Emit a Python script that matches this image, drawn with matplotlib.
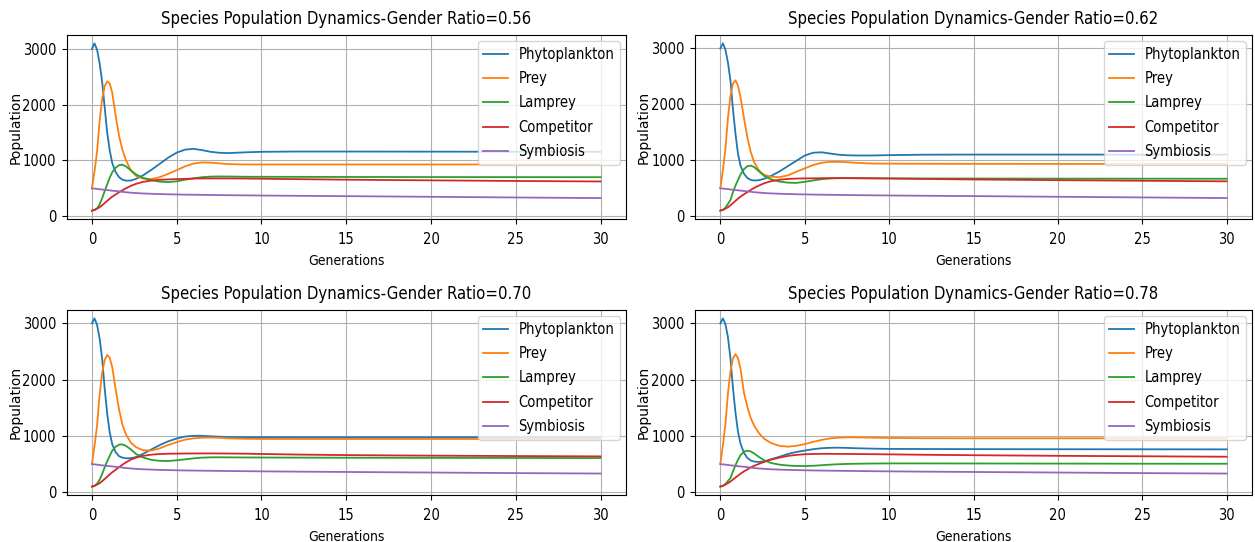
import matplotlib
matplotlib.use("Agg")
import matplotlib.pyplot as plt
import matplotlib.font_manager as fm

# ---------------- data ----------------
generations = [0, 0.15, 0.3, 0.45, 0.6, 0.75, 0.9, 1.05, 1.2, 1.4, 1.6, 1.8, 2.0, 2.3, 2.6,
               3.0, 3.5, 4.0, 4.5, 5.0, 5.5, 6.0, 6.5, 7.0, 7.5, 8.0, 9.0, 10, 12, 15, 20, 25, 30]

species = ["Phytoplankton", "Prey", "Lamprey", "Competitor", "Symbiosis"]
gender_ratios = ["0.56", "0.62", "0.70", "0.78"]

# Gender ratio 0.56
phyto_056 = [3000, 3100, 2990, 2750, 2420, 1960, 1500, 1180, 950, 790, 700, 655, 638, 640, 670,
             730, 830, 940, 1050, 1140, 1195, 1208, 1185, 1155, 1138, 1132, 1145, 1155, 1160, 1160, 1158, 1156, 1154]
prey_056 = [500, 800, 1150, 1700, 2100, 2330, 2420, 2380, 2210, 1800, 1440, 1190, 1010, 820, 725,
            675, 665, 700, 760, 826, 895, 945, 964, 960, 948, 935, 928, 928, 928, 928, 928, 928, 928]
lamprey_056 = [100, 110, 140, 210, 320, 450, 570, 690, 790, 870, 915, 925, 895, 820, 750,
               690, 645, 620, 612, 625, 655, 680, 700, 710, 713, 712, 708, 707, 706, 704, 702, 701, 700]
competitor_056 = [100, 115, 135, 160, 195, 235, 275, 315, 350, 390, 430, 465, 500, 545, 580,
                  615, 640, 653, 660, 665, 670, 675, 677, 678, 678, 678, 676, 672, 665, 655, 643, 632, 623]
symbiosis_056 = [500, 495, 490, 484, 478, 473, 468, 463, 458, 452, 445, 438, 430, 422, 415,
                 408, 402, 397, 393, 390, 387, 385, 383, 381, 379, 377, 374, 371, 366, 360, 348, 336, 325]

# Gender ratio 0.62
phyto_062 = [3000, 3090, 2980, 2750, 2430, 1910, 1470, 1110, 900, 760, 685, 650, 638, 645, 670,
             720, 800, 895, 990, 1085, 1135, 1143, 1121, 1100, 1090, 1086, 1086, 1092, 1100, 1102, 1102, 1101, 1101]
prey_062 = [500, 820, 1200, 1750, 2150, 2370, 2430, 2330, 2120, 1760, 1410, 1150, 970, 815, 740,
            706, 698, 730, 795, 855, 915, 955, 972, 972, 966, 955, 942, 940, 938, 936, 935, 934, 934]
lamprey_062 = [100, 112, 150, 220, 290, 430, 550, 650, 750, 840, 895, 905, 880, 800, 720,
               660, 620, 600, 596, 615, 640, 662, 675, 680, 681, 680, 677, 676, 675, 674, 672, 671, 670]
competitor_062 = [100, 115, 135, 160, 195, 235, 275, 315, 350, 392, 432, 470, 505, 550, 590,
                  625, 652, 667, 673, 676, 678, 680, 681, 681, 681, 680, 678, 675, 667, 657, 645, 634, 624]
symbiosis_062 = [500, 495, 490, 484, 478, 473, 468, 463, 458, 452, 445, 438, 430, 422, 415,
                 408, 402, 397, 393, 390, 387, 385, 383, 381, 379, 377, 374, 371, 366, 360, 348, 336, 325]

# Gender ratio 0.70
phyto_070 = [3000, 3090, 2980, 2740, 2380, 1850, 1400, 1060, 850, 710, 640, 615, 603, 605, 625,
             680, 760, 838, 905, 955, 990, 1003, 1003, 994, 987, 982, 978, 977, 976, 976, 976, 976, 976]
prey_070 = [500, 820, 1180, 1720, 2120, 2350, 2440, 2390, 2220, 1830, 1470, 1200, 1030, 880, 800,
            748, 740, 780, 840, 890, 935, 958, 970, 972, 968, 958, 950, 947, 946, 946, 946, 946, 946]
lamprey_070 = [100, 110, 150, 220, 320, 440, 550, 650, 740, 810, 845, 850, 825, 760, 680,
               620, 575, 558, 554, 568, 585, 602, 615, 620, 621, 620, 618, 617, 615, 613, 611, 609, 607]
competitor_070 = [100, 115, 135, 160, 195, 235, 275, 315, 355, 400, 445, 490, 530, 580, 615,
                  645, 668, 679, 684, 686, 688, 689, 690, 690, 689, 688, 685, 680, 670, 660, 650, 643, 637]
symbiosis_070 = [500, 495, 490, 484, 478, 473, 468, 463, 458, 452, 445, 438, 430, 422, 415,
                 408, 402, 397, 393, 390, 387, 385, 383, 381, 379, 377, 374, 371, 366, 360, 350, 340, 332]

# Gender ratio 0.78
phyto_078 = [3000, 3090, 2990, 2760, 2380, 1850, 1410, 1070, 860, 700, 610, 565, 545, 538, 548,
             585, 630, 680, 715, 740, 765, 782, 790, 792, 788, 782, 775, 770, 768, 766, 764, 763, 762]
prey_078 = [500, 830, 1200, 1750, 2150, 2380, 2455, 2380, 2190, 1770, 1520, 1320, 1185, 1045, 950,
            875, 825, 810, 825, 855, 895, 930, 957, 970, 976, 975, 970, 965, 960, 958, 958, 958, 958]
lamprey_078 = [100, 110, 145, 200, 250, 370, 480, 580, 660, 720, 738, 725, 690, 625, 568,
               520, 490, 475, 467, 465, 470, 480, 490, 498, 503, 506, 510, 512, 512, 511, 509, 507, 506]
competitor_078 = [100, 115, 135, 160, 190, 225, 260, 295, 330, 370, 405, 440, 470, 505, 540,
                  580, 615, 645, 663, 675, 680, 682, 682, 681, 680, 679, 676, 673, 666, 658, 647, 639, 631]
symbiosis_078 = [500, 495, 490, 484, 478, 473, 468, 463, 458, 452, 445, 438, 430, 422, 415,
                 408, 402, 397, 393, 390, 387, 385, 383, 381, 379, 377, 374, 371, 366, 360, 350, 340, 332]

panels = [
    [phyto_056, prey_056, lamprey_056, competitor_056, symbiosis_056],
    [phyto_062, prey_062, lamprey_062, competitor_062, symbiosis_062],
    [phyto_070, prey_070, lamprey_070, competitor_070, symbiosis_070],
    [phyto_078, prey_078, lamprey_078, competitor_078, symbiosis_078],
]

# ---------------- fonts ----------------
stretch = "normal"
for f in fm.fontManager.ttflist:
    if f.name == "DejaVu Sans" and "condensed" in str(f.stretch).lower():
        stretch = "condensed"
        break
plt.rcParams["font.family"] = ["DejaVu Sans"]
plt.rcParams["font.stretch"] = stretch

# ---------------- figure ----------------
W, H = 1255, 542
fig = plt.figure(figsize=(W / 100, H / 100), dpi=100)

# axes boxes in pixels: (left, top, right, bottom)
boxes = [(66.5, 35, 626, 219), (695, 35, 1252, 219),
         (66.5, 310, 626, 495), (695, 310, 1252, 495)]

colors = ["#1f77b4", "#ff7f0e", "#2ca02c", "#d62728", "#9467bd"]

for box, series, ratio in zip(boxes, panels, gender_ratios):
    l, t, r, b = box
    ax = fig.add_axes([l / W, 1 - b / H, (r - l) / W, (b - t) / H])
    for name, vals, c in zip(species, series, colors):
        ax.plot(generations, vals, label=name, color=c, lw=1.3)
    ax.set_title(f"Species Population Dynamics-Gender Ratio={ratio}", fontsize=12, pad=8)
    ax.set_xlabel("Generations", fontsize=10, labelpad=5)
    ax.set_ylabel("Population", fontsize=10, stretch="normal")
    # right edge of the rotated label ~44 px left of the axes
    ax.yaxis.set_label_coords(-44 / (r - l), 0.5)
    ax.set_xticks([0, 5, 10, 15, 20, 25, 30])
    ax.set_yticks([0, 1000, 2000, 3000])
    ax.tick_params(labelsize=10.5, pad=4)
    ax.tick_params(axis="x", pad=6)
    ax.grid(True)
    ax.legend(loc="upper right", fontsize=10.5, labelspacing=0.64,
              handlelength=1.7, handletextpad=0.7, borderaxespad=0.4)

fig.savefig("out.png", dpi=100)
